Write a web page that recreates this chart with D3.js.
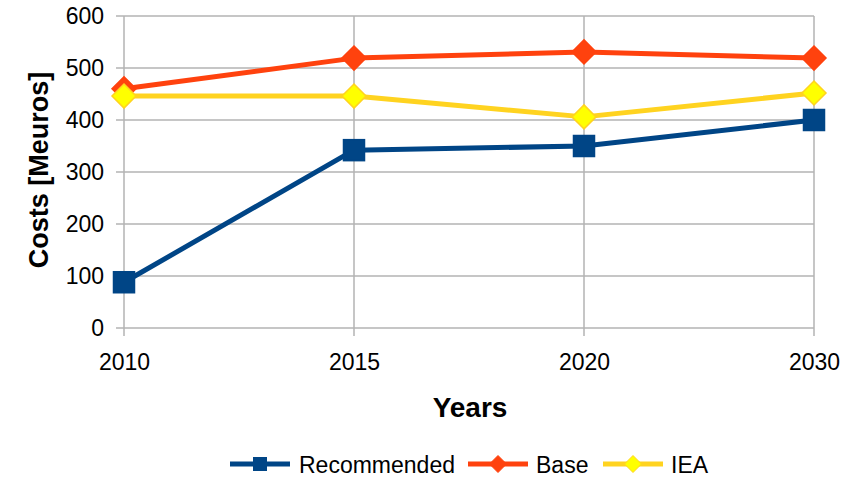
<!DOCTYPE html>
<html>
<head>
<meta charset="utf-8">
<script src="https://cdn.jsdelivr.net/npm/d3@7"></script>
<style>
  body { margin: 0; background: #fff; }
  svg { display: block; font-family: "Liberation Sans", Arial, sans-serif; }
</style>
</head>
<body>
<svg id="chart" width="862" height="478"></svg>
<script>
const years = ["2010", "2015", "2020", "2030"];
const recommended = [88, 342, 350, 400];
const base = [460, 519, 531, 519];
const iea = [446, 446, 406, 452];
const yTicks = [0, 100, 200, 300, 400, 500, 600];

const series = [
  { name: "Recommended", values: recommended, stroke: "#004586", fill: "#004586", shape: "square" },
  { name: "Base", values: base, stroke: "#ff420e", fill: "#ff420e", shape: "diamond" },
  { name: "IEA", values: iea, stroke: "#ffd320", fill: "#ffff00", shape: "diamond" }
];

const svg = d3.select("#chart");
const plotLeft = 124, plotRight = 814, plotTop = 16, plotBottom = 328;
const fontFamily = "Liberation Sans, Arial, sans-serif";

const x = d3.scalePoint().domain(years).range([plotLeft, plotRight]);
const y = d3.scaleLinear().domain([0, 600]).range([plotBottom, plotTop]);

const grid = "#b3b3b3";

// horizontal grid lines with outside ticks
svg.append("g").selectAll("line").data(yTicks).join("line")
  .attr("x1", plotLeft - 8).attr("x2", plotRight)
  .attr("y1", d => y(d)).attr("y2", d => y(d))
  .attr("stroke", grid).attr("stroke-width", 1.5);

// vertical grid lines at each category
svg.append("g").selectAll("line").data(years).join("line")
  .attr("x1", d => x(d)).attr("x2", d => x(d))
  .attr("y1", plotTop).attr("y2", plotBottom + 8)
  .attr("stroke", grid).attr("stroke-width", 1.5);

// y axis labels
const yAxis = d3.axisLeft(y).tickValues(yTicks).tickSize(0).tickPadding(20);
svg.append("g").attr("transform", `translate(${plotLeft},0)`).call(yAxis)
  .call(g => g.select(".domain").remove())
  .call(g => g.attr("font-size", 23).attr("font-family", fontFamily))
  .call(g => g.selectAll("text").attr("fill", "#000"));

// x axis labels
const xAxis = d3.axisBottom(x).tickSize(0).tickPadding(26);
svg.append("g").attr("transform", `translate(0,${plotBottom})`).call(xAxis)
  .call(g => g.select(".domain").remove())
  .call(g => g.attr("font-size", 23).attr("font-family", fontFamily))
  .call(g => g.selectAll("text").attr("fill", "#000"));

// axis titles
svg.append("text").attr("x", 470).attr("y", 417).attr("text-anchor", "middle")
  .attr("font-size", 28).attr("font-weight", "bold").text("Years");
svg.append("text").attr("transform", "translate(48,170) rotate(-90)")
  .attr("text-anchor", "middle").attr("font-size", 27).attr("font-weight", "bold")
  .text("Costs [Meuros]");

const line = d3.line().x((d, i) => x(years[i])).y(d => y(d));

function marker(sel, shape, cx, cy, s) {
  if (shape === "square") {
    sel.append("rect").attr("x", cx - s.sq / 2).attr("y", cy - s.sq / 2)
      .attr("width", s.sq).attr("height", s.sq);
  } else {
    const r = s.dm;
    sel.append("path").attr("d", `M${cx},${cy - r}L${cx + r},${cy}L${cx},${cy + r}L${cx - r},${cy}Z`);
  }
}

// series lines and markers
series.forEach(sr => {
  svg.append("path").datum(sr.values).attr("d", line)
    .attr("fill", "none").attr("stroke", sr.stroke).attr("stroke-width", 5)
    .attr("stroke-linejoin", "round");
  const g = svg.append("g").attr("fill", sr.fill).attr("stroke", sr.stroke).attr("stroke-width", 1.5);
  sr.values.forEach((v, i) => marker(g, sr.shape, x(years[i]), y(v), { sq: 21, dm: 12 }));
});

// legend
const legendItems = [
  { ...series[0], lx: 230, tx: 299 },
  { ...series[1], lx: 468, tx: 536 },
  { ...series[2], lx: 603, tx: 671 }
];
const ly = 464;
legendItems.forEach(it => {
  svg.append("line").attr("x1", it.lx).attr("x2", it.lx + 60).attr("y1", ly).attr("y2", ly)
    .attr("stroke", it.stroke).attr("stroke-width", 5);
  const g = svg.append("g").attr("fill", it.fill).attr("stroke", it.stroke).attr("stroke-width", 1);
  marker(g, it.shape, it.lx + 30, ly, { sq: 13, dm: 8.5 });
  svg.append("text").attr("x", it.tx).attr("y", 473).attr("font-size", 23).text(it.name);
});
</script>
</body>
</html>
